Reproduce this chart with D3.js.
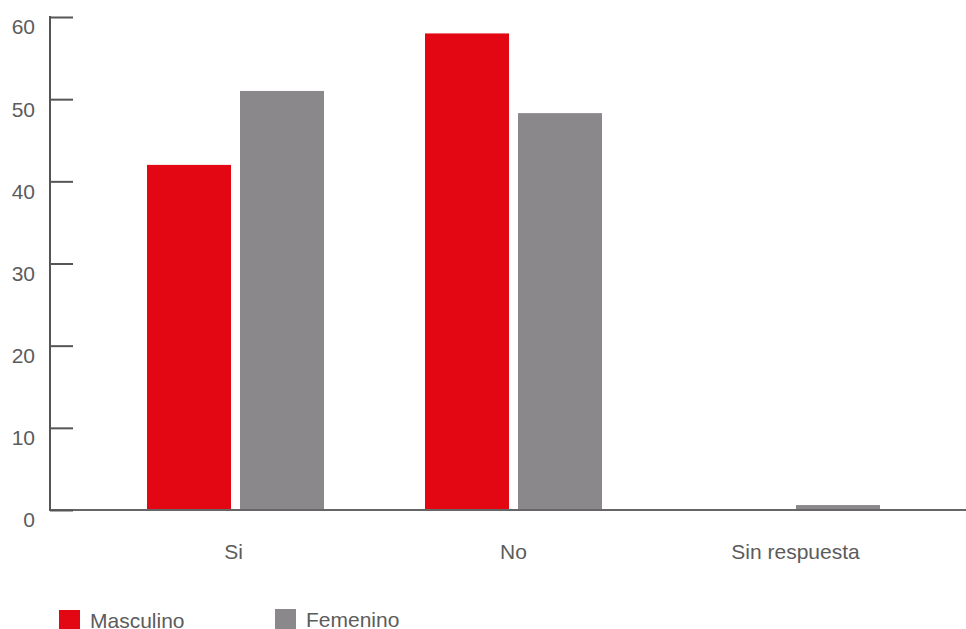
<!DOCTYPE html>
<html><head><meta charset="utf-8">
<script src="https://cdn.jsdelivr.net/npm/d3@7"></script>
<style>body{margin:0;background:#fff}svg{display:block}text{font-family:"Liberation Sans",Arial,Helvetica,sans-serif}</style>
</head><body><svg id="c" width="966" height="629"></svg>
<script>
const categories = ["Si", "No", "Sin respuesta"];
const seriesNames = ["Masculino", "Femenino"];
const masculino = [42, 58, 0.1];
const femenino = [51, 48.3, 0.6];
const yTicks = [0, 10, 20, 30, 40, 50, 60];
const colors = ["#E30613", "#8A888A"];

const svg = d3.select("#c");
const y = d3.scaleLinear().domain([0, 60]).range([510, 17]);
const pi = 101/278;
const x0 = d3.scaleBand().domain(categories).range([96.5, 930.5]).paddingInner(pi).paddingOuter(pi/2);
const x1 = d3.scaleBand().domain(seriesNames).range([0, x0.bandwidth()]).paddingInner(9/93).paddingOuter(0);
const data = [masculino, femenino];

// bars
seriesNames.forEach((s, si) => {
  svg.append("g").selectAll("rect").data(categories).join("rect")
    .attr("x", c => x0(c) + x1(s))
    .attr("y", (c, i) => y(data[si][i]))
    .attr("width", x1.bandwidth())
    .attr("height", (c, i) => y(0) - y(data[si][i]))
    .attr("fill", colors[si]);
});

// x axis line
svg.append("line").attr("x1", 50).attr("x2", 966).attr("y1", y(0)).attr("y2", y(0))
  .attr("stroke", "#666").attr("stroke-width", 2);

// y axis
const yAxis = d3.axisRight(y).tickValues(yTicks).tickSize(23).tickFormat("");
const ga = svg.append("g").attr("transform", "translate(50,0)").call(yAxis);
ga.select(".domain").remove();
ga.selectAll(".tick line").attr("stroke", "#555").attr("stroke-width", 2);
svg.append("line").attr("x1", 50).attr("x2", 50).attr("y1", y(60)-1).attr("y2", y(0)+1)
  .attr("stroke", "#555").attr("stroke-width", 2);
svg.append("g").selectAll("text").data(yTicks).join("text")
  .attr("x", 35).attr("y", d => y(d) + 10).attr("dy", "0.35em")
  .attr("text-anchor", "end").attr("font-size", 21).attr("fill", "#5c5c5c")
  .text(d => d);

// x labels
const labelShift = [-2, 0, 4];
svg.append("g").selectAll("text").data(categories).join("text")
  .attr("x", (c, i) => x0(c) + x0.bandwidth()/2 + labelShift[i]).attr("y", 552).attr("dy", "0.35em")
  .attr("text-anchor", "middle").attr("font-size", 21).attr("fill", "#5c5c5c")
  .text(c => c);

// legend
const legX = [59, 275];
const legY = [610, 609];
seriesNames.forEach((s, i) => {
  svg.append("rect").attr("x", legX[i]).attr("y", legY[i]).attr("width", 21).attr("height", 20).attr("fill", colors[i]);
  svg.append("text").attr("x", legX[i] + 31).attr("y", legY[i] + 11).attr("dy", "0.35em")
    .attr("font-size", 21).attr("fill", "#5c5c5c").text(s);
});
</script></body></html>
